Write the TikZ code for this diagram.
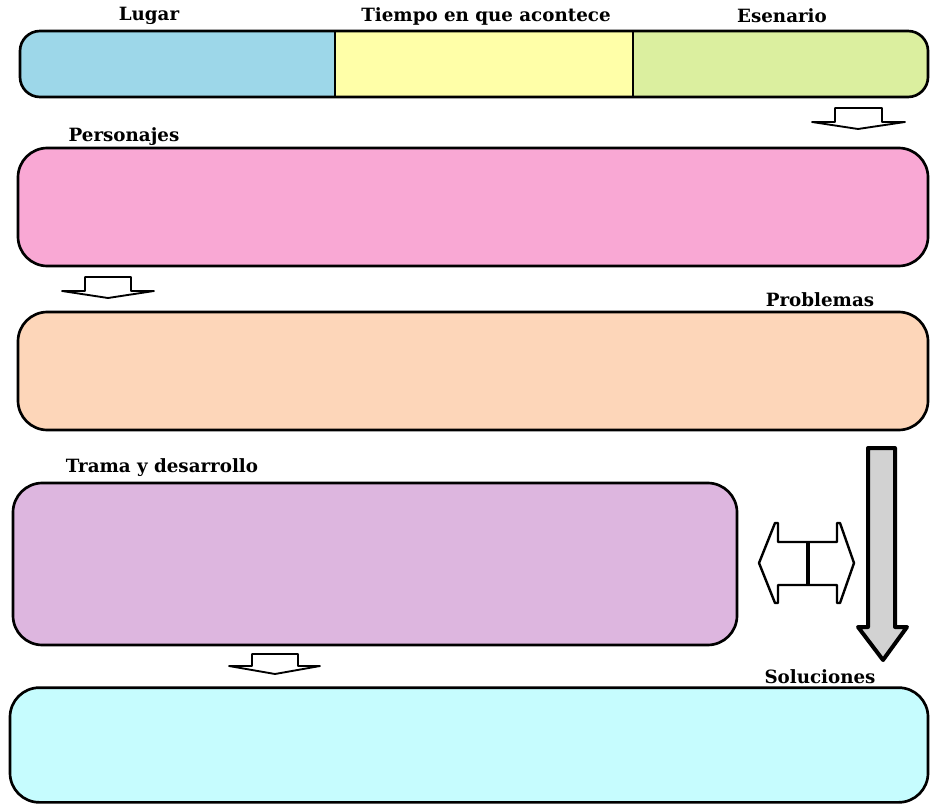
\documentclass[tikz,border=0pt]{standalone}
\usepackage{fontspec}
\setmainfont{DejaVu Serif}
\begin{document}
\begin{tikzpicture}[x=0.75pt,y=-0.75pt,
  lbl/.style={font=\bfseries\fontsize{13.7}{15}\selectfont, inner sep=0pt},
  box/.style={draw=black, line width=2pt, rounded corners=22pt, inner sep=0pt},
  blk/.style={draw=black, line width=1.4pt, fill=white, line join=round},
  big/.style={draw=black, line width=3pt, fill=gray!35, line join=round}]
\definecolor{cblue}{HTML}{9DD7E9}
\definecolor{cyel}{HTML}{FFFFA8}
\definecolor{cgreen}{HTML}{DBEF9F}
\definecolor{cpink}{HTML}{F9A8D4}
\definecolor{cpeach}{HTML}{FDD6B9}
\definecolor{cpurple}{HTML}{DDB6DF}
\definecolor{ccyan}{HTML}{C6FCFE}
\useasboundingbox (0,0) rectangle (930,805);
% top bar
\begin{scope}
  \clip[rounded corners=15pt] (20,31) rectangle (928,97);
  \fill[cblue] (20,31) rectangle (335,97);
  \fill[cyel] (335,31) rectangle (633,97);
  \fill[cgreen] (633,31) rectangle (928,97);
\end{scope}
\node[box, rounded corners=15pt, minimum width=681pt, minimum height=49.5pt] (bar) at (474,64) {};
\draw[line width=1.5pt] (335,31) -- (335,97) (633,31) -- (633,97);
\node[lbl] (lugar) at (149,16) {Lugar};
\node[lbl] (tiempo) at (486,16) {Tiempo en que acontece};
\node[lbl] (esen) at (782,16) {Esenario};
% boxes
\node[box, fill=cpink, minimum width=682.5pt, minimum height=88.5pt] (pers) at (473,207) {};
\node[lbl] (lpers) at (124,137) {Personajes};
\node[box, fill=cpeach, minimum width=682.5pt, minimum height=88.5pt] (prob) at (473,371) {};
\node[lbl] (lprob) at (820,300) {Problemas};
\node[box, fill=cpurple, minimum width=543pt, minimum height=121.5pt] (trama) at (375,564) {};
\node[lbl] (ltrama) at (162,468) {Trama y desarrollo};
\node[box, fill=ccyan, minimum width=688.5pt, minimum height=86pt] (sol) at (469,745) {};
\node[lbl] (lsol) at (820,677) {Soluciones};
% small block arrows
\draw[blk] (835,108) -- (882,108) -- (882,122) -- (905,122) -- (858,129) -- (812,122) -- (835,122) -- cycle;
\draw[blk] (85,277) -- (131,277) -- (131,291) -- (154,291) -- (108,298) -- (62,291) -- (85,291) -- cycle;
\draw[blk] (252,654) -- (298,654) -- (298,666) -- (320,666) -- (275,674) -- (229,666) -- (252,666) -- cycle;
% double arrow
\draw[blk, line width=1.8pt] (759,563) -- (775,523) -- (778,523) -- (778,542) -- (837,542) -- (837,523) -- (840,523) -- (854,563)
  -- (840,603) -- (837,603) -- (837,585) -- (778,585) -- (778,603) -- (775,603) -- cycle;
\draw[line width=3pt] (808,542) -- (808,585);
% big down arrow
\draw[big] (868,448) -- (895,448) -- (895,627) -- (907,627) -- (883,660) -- (858,627) -- (868,627) -- cycle;
\end{tikzpicture}
\end{document}
